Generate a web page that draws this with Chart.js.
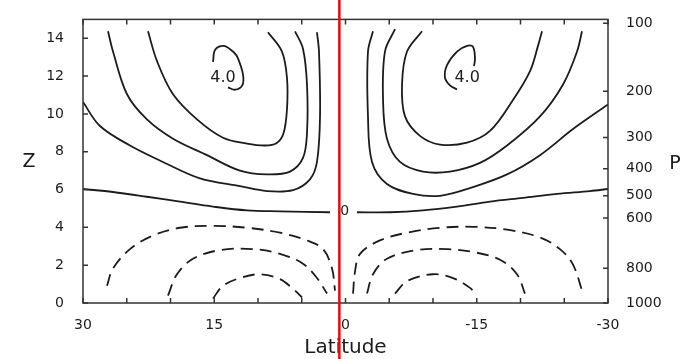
<!DOCTYPE html>
<html>
<head>
<meta charset="utf-8">
<script src="https://cdn.jsdelivr.net/npm/chart.js@4.4.1/dist/chart.umd.min.js"></script>
<style>
  html, body { margin: 0; padding: 0; background: #fff; }
  canvas { display: block; }
</style>
</head>
<body>
<canvas id="cell" width="683" height="359"></canvas>
<script>
// pressure levels (mb) on the right axis and the heights (km) they sit at
const pressureLevels  = [1000, 800, 600, 500, 400, 300, 200, 100];
const pressureHeights = [0, 1.84, 4.49, 5.67, 7.1, 8.76, 11.2, 14.8];

// latitude of the red marker line
const markerLat = 0.7;

// solid contours, [latitude, height]
const northInner = [[22.57,14.37],[21.54,12.79],[19.71,11.04],[16.97,9.71],[14.0,8.74],[11.26,8.43],[9.2,8.33],[7.9,8.45],[7.1,8.95],[6.69,10.23],[6.69,11.92],[7.26,13.3],[8.86,14.32]];
const northMiddle = [[27.14,14.37],[26.57,13.3],[24.97,11.04],[22.69,9.71],[19.71,8.69],[15.83,7.82],[12.06,7.0],[8.97,6.8],[6.34,6.95],[4.86,7.67],[4.4,9.0],[4.4,11.56],[4.86,13.45],[5.77,14.37]];
const northOuter = [[30,10.63],[28.06,9.36],[24.63,8.33],[20.86,7.46],[16.63,6.59],[12.06,6.18],[8.97,5.92],[6.0,5.97],[4.06,6.54],[3.26,7.46],[2.91,9.87],[3.03,13.3],[3.26,14.32]];
const northCore = [[15.14,12.75],[14.9,13.4],[13.9,13.6],[12.75,13.25],[12.29,12.94],[11.71,12.07],[11.8,11.51],[12.6,11.28],[13.43,11.4]];

const southInner = [[-8.74,14.37],[-7.03,13.3],[-6.46,11.56],[-6.8,9.87],[-8.51,8.84],[-10.8,8.38],[-13.89,8.48],[-16.51,9.1],[-19.14,10.74],[-21.09,12.27],[-22.0,13.6],[-22.46,14.37]];
const southMiddle = [[-5.66,14.48],[-4.51,13.3],[-4.29,10.74],[-4.74,8.69],[-6.23,7.46],[-8.86,6.95],[-11.94,6.95],[-15.37,7.41],[-18.46,8.33],[-22.23,9.87],[-24.86,11.56],[-26.46,13.3],[-27.03,14.37]];
const southOuter = [[-3.14,14.37],[-2.57,13.3],[-2.57,9.87],[-3.03,7.46],[-4.74,6.29],[-7.71,5.77],[-10.8,5.67],[-14.57,6.13],[-18.46,6.8],[-22.23,7.82],[-26.0,9.2],[-30,10.5]];
const southCore = [[-14.69,12.53],[-14.8,12.94],[-14.57,13.55],[-13.89,13.6],[-12.74,13.3],[-11.6,12.58],[-11.37,11.92],[-11.94,11.51],[-12.74,11.3]];

const zeroNorth = [[30,6.03],[26.57,5.87],[22.69,5.62],[18.91,5.36],[15.14,5.1],[11.26,4.9],[7.49,4.85],[1.77,4.8]];
const zeroSouth = [[-1.31,4.8],[-5.09,4.8],[-8.86,4.9],[-12.74,5.1],[-16.51,5.36],[-20.29,5.56],[-24.17,5.77],[-27.94,5.92],[-30,6.03]];

// dashed (negative) contours near the surface
const lowNorthOuter = [[27.26,0.91],[26.57,1.83],[24.63,2.85],[22.0,3.57],[18.91,3.98],[15.14,4.08],[11.26,3.98],[7.49,3.72],[4.4,3.31],[2.57,2.85],[1.54,1.83],[1.2,0.65]];
const lowNorthMiddle = [[20.29,0.39],[19.26,1.52],[17.43,2.34],[14.34,2.8],[10.57,2.85],[7.49,2.6],[4.86,2.08],[3.26,1.32],[2.11,0.5]];
const lowNorthInner = [[15.14,0.24],[14.0,0.91],[12.06,1.32],[9.77,1.52],[7.49,1.26],[6.0,0.75],[4.97,0.29]];
const lowSouthOuter = [[-0.86,0.5],[-1.09,1.67],[-1.66,2.6],[-3.94,3.31],[-7.03,3.72],[-10.8,3.98],[-14.57,4.03],[-18.46,3.88],[-22.23,3.47],[-24.51,2.85],[-26.0,2.03],[-27.14,0.5]];
const lowSouthMiddle = [[-2.46,0.5],[-3.14,1.52],[-4.74,2.34],[-8.17,2.8],[-11.6,2.85],[-14.57,2.7],[-17.66,2.29],[-19.6,1.52],[-20.51,0.5]];
const lowSouthInner = [[-5.66,0.5],[-7.03,1.16],[-10.0,1.52],[-12.29,1.32],[-14.23,0.8],[-14.8,0.5]];

// contour labels
const contourLabels = [
  { text: '4.0', lat: 14.0, z: 11.92, size: 16 },
  { text: '4.0', lat: -13.9, z: 11.92, size: 16 },
  { text: '0', lat: 0.1, z: 4.85, size: 14 }
];

const solid = [northInner, northMiddle, northOuter, northCore,
               southInner, southMiddle, southOuter, southCore,
               zeroNorth, zeroSouth];
const dashed = [lowNorthOuter, lowNorthMiddle, lowNorthInner,
                lowSouthOuter, lowSouthMiddle, lowSouthInner];

const ink = '#1c1c1c';
const toPoints = line => line.map(p => ({ x: p[0], y: p[1] }));

const datasets = [];
solid.forEach(line => datasets.push({
  data: toPoints(line), showLine: true, tension: 0.35,
  borderColor: ink, borderWidth: 1.8, pointRadius: 0
}));
dashed.forEach(line => datasets.push({
  data: toPoints(line), showLine: true, tension: 0.35,
  borderColor: ink, borderWidth: 1.8, pointRadius: 0, borderDash: [12, 7]
}));

Chart.defaults.font.family = "'DejaVu Sans', sans-serif";
Chart.defaults.color = ink;

// frame, inward tick marks, labels and marker line
const decorations = {
  id: 'decorations',
  afterDatasetsDraw(chart) {
    const ctx = chart.ctx;
    const { left, right, top, bottom } = chart.chartArea;
    const x = chart.scales.x, y = chart.scales.y, p = chart.scales.p;
    ctx.save();
    ctx.strokeStyle = '#333';
    ctx.lineWidth = 1.5;
    ctx.strokeRect(left, top, right - left, bottom - top);
    ctx.beginPath();
    x.ticks.forEach(t => {
      const px = x.getPixelForValue(t.value);
      ctx.moveTo(px, bottom); ctx.lineTo(px, bottom - 5);
      ctx.moveTo(px, top); ctx.lineTo(px, top + 5);
    });
    y.ticks.forEach(t => {
      const py = y.getPixelForValue(t.value);
      ctx.moveTo(left, py); ctx.lineTo(left + 5, py);
    });
    p.ticks.forEach(t => {
      const py = p.getPixelForValue(t.value);
      ctx.moveTo(right, py); ctx.lineTo(right - 5, py);
    });
    ctx.stroke();

    ctx.fillStyle = ink;
    ctx.textAlign = 'center';
    ctx.textBaseline = 'middle';
    contourLabels.forEach(l => {
      ctx.font = l.size + "px 'DejaVu Sans'";
      ctx.fillText(l.text, x.getPixelForValue(l.lat), y.getPixelForValue(l.z));
    });

    const midY = (top + bottom) / 2;
    ctx.font = "19px 'DejaVu Sans'";
    ctx.fillText('Z', 29, midY + 1);
    ctx.fillText('P', 675, midY + 3);
    ctx.font = "20px 'DejaVu Sans'";
    ctx.fillText('Latitude', (left + right) / 2, bottom + 45);
    ctx.restore();
  },
  afterDraw(chart) {
    const ctx = chart.ctx;
    const px = chart.scales.x.getPixelForValue(markerLat);
    ctx.save();
    ctx.strokeStyle = '#ff0000';
    ctx.lineWidth = 2.5;
    ctx.beginPath();
    ctx.moveTo(px, 0);
    ctx.lineTo(px, chart.height);
    ctx.stroke();
    ctx.restore();
  }
};

new Chart(document.getElementById('cell'), {
  type: 'scatter',
  data: { datasets },
  options: {
    responsive: false,
    animation: false,
    layout: { padding: { top: 11 } },
    plugins: { legend: { display: false }, tooltip: { enabled: false } },
    scales: {
      x: {
        type: 'linear', min: -30, max: 30, reverse: true,
        grid: { display: false }, border: { display: false },
        ticks: {
          stepSize: 5, autoSkip: false, maxRotation: 0, padding: 6,
          font: { size: 14 },
          callback: v => (v % 15 === 0 ? String(v) : '')
        },
        afterFit: s => { s.height = 56; }
      },
      y: {
        type: 'linear', position: 'left', min: 0, max: 15,
        grid: { display: false }, border: { display: false },
        ticks: { stepSize: 2, includeBounds: false, padding: 11, font: { size: 14 } },
        afterFit: s => { s.width = 83; }
      },
      p: {
        type: 'linear', position: 'right', min: 0, max: 15,
        grid: { display: false }, border: { display: false },
        afterBuildTicks: s => { s.ticks = pressureHeights.map(v => ({ value: v })); },
        ticks: {
          padding: 10, font: { size: 14 },
          callback: (v, i) => String(pressureLevels[i])
        },
        afterFit: s => { s.width = 75; }
      }
    }
  },
  plugins: [decorations]
});
</script>
</body>
</html>
